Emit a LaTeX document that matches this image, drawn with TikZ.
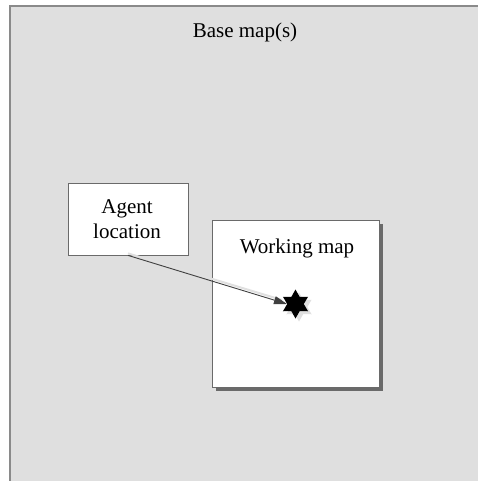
\documentclass[tikz,border=0pt]{standalone}
\usepackage{fontspec}
\setmainfont{Liberation Serif}
\usetikzlibrary{shapes.geometric,arrows.meta}
\definecolor{basegray}{HTML}{DFDFDF}
\definecolor{edgegray}{HTML}{8A8A8A}
\definecolor{shadowgray}{HTML}{6A6A6A}
\tikzset{
  lbl/.style={font=\fontsize{21}{25}\selectfont, align=center, inner sep=0pt},
  whitebox/.style={draw=shadowgray, fill=white, line width=0.8pt},
  conn/.style={draw=black!75, line width=0.9pt, -{Triangle[length=13pt,width=8pt]}},
}
\begin{document}
\begin{tikzpicture}[x=1pt,y=-1pt]
\useasboundingbox (0,0) rectangle (478,481);
\begin{scope}
\clip (0,0) rectangle (478,481);
\draw[edgegray, fill=basegray, line width=1.2pt] (10,6) rectangle (490,495);
\end{scope}
\node[lbl, anchor=base] (base) at (245,38) {Base map(s)};
% working map with shadow
\fill[shadowgray] (216,224) rectangle (383,391);
\node[whitebox, minimum width=167pt, minimum height=167pt, inner sep=0pt] (work) at (295.5,303.5) {};
\node[lbl, anchor=base] (worklbl) at (297,253) {Working map};
% agent box
\node[whitebox, minimum width=120pt, minimum height=72pt, inner sep=0pt] (agent) at (128,219) {};
\node[lbl, anchor=base] (agentlbl) at (127,238) {Agent\\location};
% star with shadow
\node[star, star points=6, star point ratio=1.75, minimum size=29pt, inner sep=0pt, fill=black!12] (starshadow) at (299,307) {};
\node[star, star points=6, star point ratio=1.75, minimum size=29pt, inner sep=0pt, fill=black] (target) at (295.5,304) {};
% arrow with light shadow
\coordinate (tipshadow) at (282,300);
\draw[black!12, line width=2pt] ([yshift=2pt]agent.south) -- (tipshadow);
\draw[conn] (agent.south) -- (target.west);
\end{tikzpicture}
\end{document}
